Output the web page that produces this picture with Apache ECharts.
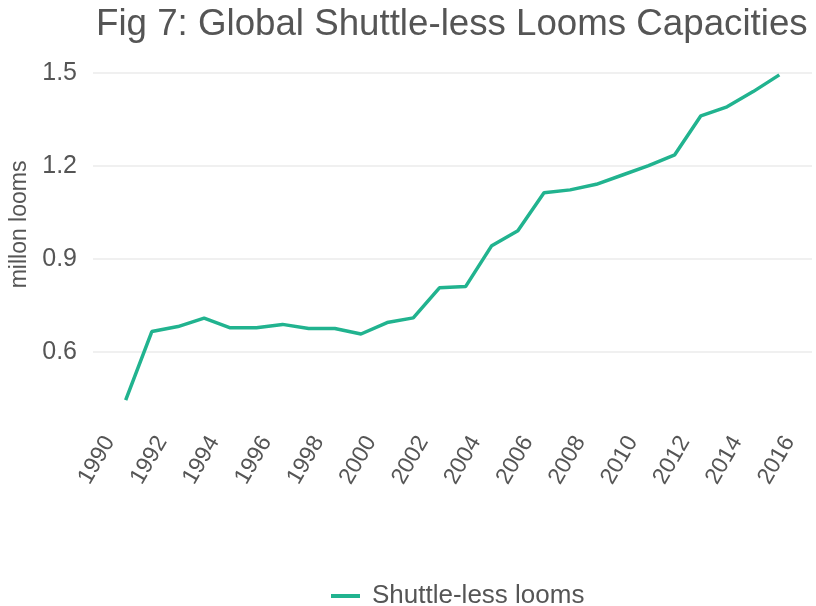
<!DOCTYPE html>
<html>
<head>
<meta charset="utf-8">
<script src="https://cdn.jsdelivr.net/npm/echarts@6/dist/echarts.min.js"></script>
<style>html,body{margin:0;padding:0;background:#fff;}#chart{width:816px;height:606px;}</style>
</head>
<body>
<div id="chart"></div>
<script>
const years = [1991,1992,1993,1994,1995,1996,1997,1998,1999,2000,2001,2002,2003,2004,2005,2006,2007,2008,2009,2010,2011,2012,2013,2014,2015,2016];
const looms = [0.444,0.665,0.681,0.708,0.677,0.677,0.688,0.675,0.675,0.657,0.694,0.709,0.806,0.810,0.942,0.990,1.113,1.122,1.140,1.170,1.200,1.235,1.361,1.390,1.439,1.493];
const xTicks = [1990,1992,1994,1996,1998,2000,2002,2004,2006,2008,2010,2012,2014,2016];
const yTicks = [0.6,0.9,1.2,1.5];
const seriesName = 'Shuttle-less looms';

const FONT = '"Liberation Sans", Arial, sans-serif';
const TXT = '#555555';
const chart = echarts.init(document.getElementById('chart'), null, {renderer:'canvas'});
chart.setOption({
  animation:false,
  backgroundColor:'#fff',
  title:{
    text:'Fig 7: Global Shuttle-less Looms Capacities',
    left:91, top:1,
    textStyle:{fontFamily:FONT, fontSize:36.7, fontWeight:'normal', color:TXT}
  },
  legend:{
    data:[{name:seriesName, icon:'rect'}],
    left:326, top:578,
    itemWidth:29, itemHeight:4,
    textStyle:{fontFamily:FONT, fontSize:26, color:TXT, padding:[0,0,0,7]}
  },
  grid:{left:93, right:4, top:58.6, bottom:189.7, containLabel:false},
  xAxis:{
    type:'value', min:1989.75, max:2017.25,
    axisLine:{show:false}, splitLine:{show:false},
    axisTick:{show:false, customValues:xTicks},
    axisLabel:{customValues:xTicks, rotate:60, margin:16, verticalAlign:'top',
      fontFamily:FONT, fontSize:23, color:TXT, formatter:v=>String(v)}
  },
  yAxis:{
    type:'value', min:0.3915, max:1.5455,
    name:'millon looms', nameLocation:'middle', nameGap:58,
    nameTextStyle:{fontFamily:FONT, fontSize:23, color:TXT, padding:[0,0,0,26]},
    axisLine:{show:false},
    axisTick:{show:false, customValues:yTicks},
    axisLabel:{customValues:yTicks, margin:16, fontFamily:FONT, fontSize:25, color:TXT, formatter:v=>v.toFixed(1)},
    splitLine:{show:true, lineStyle:{color:'#ebebeb', width:1.5}}
  },
  series:[{
    name:seriesName, type:'line',
    data:years.map((y,i)=>[y,looms[i]]),
    showSymbol:false, symbol:'none',
    lineStyle:{color:'#21b38f', width:3.5},
    itemStyle:{color:'#21b38f'}
  }]
});
</script>
</body>
</html>
